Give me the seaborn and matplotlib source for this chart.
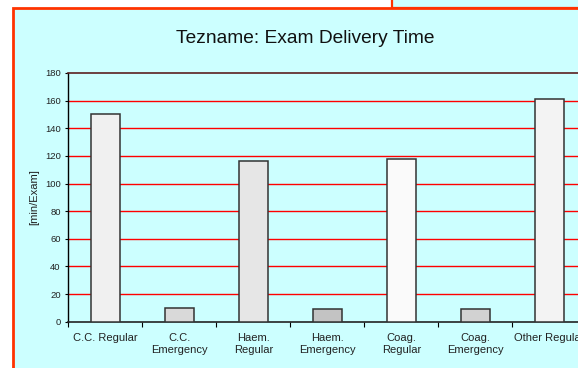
import matplotlib
matplotlib.use("Agg")
import matplotlib.pyplot as plt
from matplotlib.patches import Rectangle
from matplotlib.ticker import FixedLocator
import seaborn as sns
import pandas as pd

# Exam delivery time per laboratory area and priority
categories = ["C.C. Regular", "C.C.\nEmergency", "Haem.\nRegular", "Haem.\nEmergency",
              "Coag.\nRegular", "Coag.\nEmergency", "Other Regular"]
minutes_per_exam = [150, 10, 116, 9, 118, 9, 161]
bar_fills = ["#F0F0F0", "#D9D9D9", "#E6E6E6", "#C3C3C3",
             "#FAFAFA", "#D2D2D2", "#F3F3F3"]
y_ticks = [0, 20, 40, 60, 80, 100, 120, 140, 160, 180]

df = pd.DataFrame({"category": categories, "minutes": minutes_per_exam})

sns.set_theme(style="white")
plt.rcParams["font.family"] = ["Liberation Sans", "DejaVu Sans"]

W, H = 578, 368
fig = plt.figure(figsize=(W / 100, H / 100), dpi=100)
fig.patch.set_facecolor("white")

red = "#FF3300"
cyan = "#CCFFFF"

# neighbouring chart box peeking in at the top right
fig.patches.append(Rectangle((392 / W, (H - 8) / H), 1.0, 0.2, transform=fig.transFigure,
                             facecolor=cyan, edgecolor=red, linewidth=1.6, zorder=-2))
# main chart frame
fig.patches.append(Rectangle((13 / W, -0.2), 1.0, (H - 8) / H + 0.2, transform=fig.transFigure,
                             facecolor=cyan, edgecolor=red, linewidth=2.0, zorder=-1))

# plot area runs on past the right edge, one more category slot wide
n_slots = 8
left_px, right_px = 68.3, 68.3 + n_slots * 74.0
top_px, bottom_px = 73.0, 321.7
ax = fig.add_axes([left_px / W, (H - bottom_px) / H,
                   (right_px - left_px) / W, (bottom_px - top_px) / H])
ax.set_zorder(2)
ax.set_facecolor("none")

sns.barplot(data=df, x="category", y="minutes", ax=ax, width=0.4,
            color="#EEEEEE", edgecolor="#333333", linewidth=1.1, zorder=3)
for patch, fill in zip(ax.patches, bar_fills):
    patch.set_facecolor(fill)

ax.set_xlim(-0.5, n_slots - 0.5)
ax.set_ylim(0, 180)
ax.yaxis.set_major_locator(FixedLocator(y_ticks))
for v in y_ticks[1:-1]:
    ax.axhline(v, color="#FF0000", linewidth=1.0, zorder=1)

ax.spines["right"].set_visible(False)
ax.spines["top"].set_color("#5A2020")
ax.spines["top"].set_linewidth(1.2)
ax.spines["left"].set_color("black")
ax.spines["left"].set_linewidth(1.0)
ax.spines["bottom"].set_color("#222222")
ax.spines["bottom"].set_linewidth(1.2)

ax.tick_params(axis="y", which="major", direction="out", length=2.5, width=0.8,
               color="black", labelsize=6.8, labelcolor="#222222", pad=3, left=True)
ax.set_xticks(range(len(categories)))
ax.set_xticklabels(categories, fontsize=8, color="#222222", linespacing=1.32)
ax.set_xticks([i - 0.5 for i in range(n_slots + 1)], minor=True)
ax.tick_params(axis="x", which="major", length=0, pad=8)
ax.tick_params(axis="x", which="minor", direction="out", length=3.5, width=0.8,
               color="black", bottom=True)

ax.set_xlabel("")
ax.set_ylabel("")
fig.text(34 / W, 1 - 197 / H, "[min/Exam]", rotation=90, ha="center", va="center",
         fontsize=8, color="#222222")
fig.text(305 / W, 1 - 38.5 / H, "Tezname: Exam Delivery Time", ha="center", va="center",
         fontsize=13.8, color="#111111")

fig.savefig("out.png", dpi=100, facecolor=fig.get_facecolor())
